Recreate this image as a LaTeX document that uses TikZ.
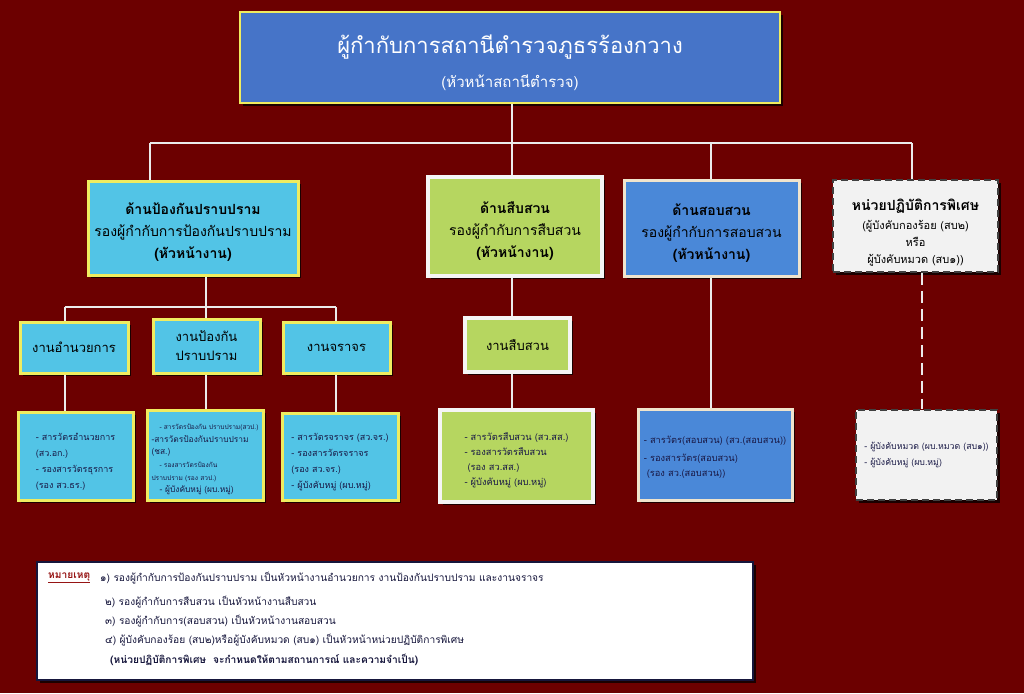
\documentclass[tikz,border=0pt]{standalone}
\usepackage{fontspec}
\setmainfont{Loma}[Script=Thai]
\usetikzlibrary{shadows}
\definecolor{bgred}{RGB}{108,0,0}
\definecolor{topblue}{RGB}{70,116,200}
\definecolor{yelb}{RGB}{240,236,96}
\definecolor{cyanc}{RGB}{82,196,230}
\definecolor{greenc}{RGB}{182,214,96}
\definecolor{blueb}{RGB}{74,136,216}
\definecolor{tanb}{RGB}{240,228,205}
\definecolor{specf}{RGB}{242,242,242}
\definecolor{navy}{RGB}{22,22,60}
\definecolor{darktx}{RGB}{25,25,70}
\definecolor{notered}{RGB}{150,20,20}
\definecolor{wline}{RGB}{235,235,235}
\tikzset{
  sz/.style 2 args={minimum width=#1, minimum height=#2, inner sep=0pt},
  sh/.style={drop shadow={fill=black, opacity=0.75, shadow xshift=3pt, shadow yshift=-3pt}},
  topbox/.style={sh, fill=topblue, draw=yelb, line width=2.5pt},
  cyanbox/.style={sh, fill=cyanc, draw=yelb, line width=3pt},
  greenbox/.style={sh, fill=greenc, draw=white!92!gray, line width=3.5pt},
  bluebox/.style={sh, fill=blueb, draw=tanb, line width=3pt},
  specbox/.style={sh, fill=specf, draw=black!75, dash pattern=on 7pt off 4pt, line width=1.8pt},
  notebox/.style={sh, fill=white, draw=navy, line width=2.5pt},
  ctx/.style={align=center, inner sep=0pt},
  ltx/.style={align=left, inner sep=0pt, text=darktx},
  hdrfont/.style={font=\fontsize{14}{22}\selectfont},
  subfont/.style={font=\fontsize{13}{19}\selectfont},
  notefont/.style={font=\fontsize{10.2}{13}\selectfont, text=navy, anchor=west, inner sep=0pt},
  conn/.style={draw=wline, line width=2.2pt},
  dconn/.style={draw=wline, line width=2.5pt, dash pattern=on 12pt off 6pt},
}
\begin{document}
\begin{tikzpicture}[x=1pt,y=-1pt]
\fill[bgred] (0,0) rectangle (1024,693);
\useasboundingbox (0,0) rectangle (1024,693);

% junction coordinates
\coordinate (jL) at (150,143);
\coordinate (jM) at (512,143);
\coordinate (jB) at (711,143);
\coordinate (jS) at (912,143);
\coordinate (kM) at (206,307);
\coordinate (kA) at (65,307);
\coordinate (kC) at (336,307);
\coordinate (jD) at (922,300);

% horizontal connectors (drawn first, boxes cover ends)
\draw[conn] (jL) -- (jS);
\draw[conn] (kA) -- (kC);

% ---------- boxes ----------
\node[topbox, sz={540pt}{91pt}] (top) at (510,57.5) {};
\node[cyanbox, sz={210pt}{94pt}] (hL) at (193,228) {};
\node[greenbox, sz={174pt}{99pt}] (hG) at (515,226.5) {};
\node[bluebox, sz={175pt}{96pt}] (hB) at (711.5,228) {};
\node[specbox, sz={165pt}{92pt}] (hS) at (915.5,226) {};
\node[cyanbox, sz={108pt}{51pt}] (s1) at (74,347.5) {};
\node[cyanbox, sz={107pt}{54pt}] (s2) at (206.5,346) {};
\node[cyanbox, sz={107pt}{51pt}] (s3) at (336.5,347.5) {};
\node[greenbox, sz={105pt}{54pt}] (sG) at (517.5,345) {};
\node[cyanbox, sz={115pt}{88pt}] (b1) at (75.5,456) {};
\node[cyanbox, sz={116pt}{90pt}] (b2) at (205,455) {};
\node[cyanbox, sz={116pt}{87pt}] (b3) at (340,456.5) {};
\node[greenbox, sz={153pt}{92pt}] (bG) at (516.5,456) {};
\node[bluebox, sz={154pt}{91pt}] (bB) at (715,454.5) {};
\node[specbox, sz={141pt}{90pt}] (bS) at (926.5,455) {};
\node[notebox, sz={716pt}{118pt}] (notes) at (395,621) {};

% ---------- texts ----------
\node[ctx, text=white] (topt) at ([yshift=-5pt]top.center)
  {{\fontsize{22}{30}\selectfont ผู้กำกับการสถานีตำรวจภูธรร้องกวาง}\\[15pt]
   {\fontsize{15}{18}\selectfont (หัวหน้าสถานีตำรวจ)}};
\node[ctx, hdrfont] (hLt) at ([yshift=-4pt]hL.center)
  {\textbf{ด้านป้องกันปราบปราม}\\ รองผู้กำกับการป้องกันปราบปราม\\ \textbf{(หัวหน้างาน)}};
\node[ctx, hdrfont] (hGt) at ([yshift=-5pt]hG.center)
  {\textbf{ด้านสืบสวน}\\ รองผู้กำกับการสืบสวน\\ \textbf{(หัวหน้างาน)}};
\node[ctx, hdrfont] (hBt) at ([yshift=-5pt]hB.center)
  {\textbf{ด้านสอบสวน}\\ รองผู้กำกับการสอบสวน\\ \textbf{(หัวหน้างาน)}};
\node[ctx, font=\fontsize{11}{17}\selectfont] (hSt) at ([yshift=-7pt]hS.center)
  {{\fontsize{14}{18}\selectfont\textbf{หน่วยปฏิบัติการพิเศษ}}\\[2pt] (ผู้บังคับกองร้อย (สบ๒)\\ หรือ\\ ผู้บังคับหมวด (สบ๑))};

\node[ctx, subfont] (s1t) at (s1.center) {งานอำนวยการ};
\node[ctx, subfont] (s2t) at (s2.center) {งานป้องกัน\\ ปราบปราม};
\node[ctx, subfont] (s3t) at (s3.center) {งานจราจร};
\node[ctx, subfont] (sGt) at (sG.center) {งานสืบสวน};

\node[ltx, font=\fontsize{9}{16}\selectfont] (b1t) at ([yshift=-6pt]b1.center)
  {- สารวัตรอำนวยการ\\ (สว.อก.)\\ - รองสารวัตรธุรการ\\ (รอง สว.ธร.)};
\node[ltx, font=\fontsize{8.4}{12.6}\selectfont] (b2t) at ([yshift=-4.5pt]b2.center)
  {\hspace*{8pt}{\fontsize{6.6}{12.6}\selectfont - สารวัตรป้องกัน ปราบปราม(สวป.)}\\
   -สารวัตรป้องกันปราบปราม\\
   (ชส.)\\
   \hspace*{8pt}{\fontsize{6.6}{12.6}\selectfont - รองสารวัตรป้องกัน}\\
   {\fontsize{6.6}{12.6}\selectfont ปราบปราม (รอง สวป.)}\\
   \hspace*{8pt}- ผู้บังคับหมู่ (ผบ.หมู่)};
\node[ltx, font=\fontsize{9}{16}\selectfont] (b3t) at ([yshift=-6pt]b3.center)
  {- สารวัตรจราจร (สว.จร.)\\ - รองสารวัตรจราจร\\ (รอง สว.จร.)\\ - ผู้บังคับหมู่ (ผบ.หมู่)};
\node[ltx, font=\fontsize{9.3}{15}\selectfont] (bGt) at ([yshift=-4.5pt]bG.center)
  {- สารวัตรสืบสวน (สว.สส.)\\ - รองสารวัตรสืบสวน\\ \hspace*{3pt}(รอง สว.สส.)\\ - ผู้บังคับหมู่ (ผบ.หมู่)};
\node[ltx, font=\fontsize{9.3}{15}\selectfont] (bBt) at ([yshift=-3pt]bB.center)
  {- สารวัตร(สอบสวน) (สว.(สอบสวน))\\[3pt] - รองสารวัตร(สอบสวน)\\ \hspace*{3pt}(รอง สว.(สอบสวน))};
\node[ltx, font=\fontsize{8.8}{16}\selectfont] (bSt) at (bS.center)
  {- ผู้บังคับหมวด (ผบ.หมวด (สบ๑))\\ - ผู้บังคับหมู่ (ผบ.หมู่)};

% ---------- vertical connectors ----------
\draw[conn] (jM |- top.south) -- (jM);
\draw[conn] (jL) -- (jL |- hL.north);
\draw[conn] (jM) -- (jM |- hG.north);
\draw[conn] (jB) -- (jB |- hB.north);
\draw[conn] (jS) -- (jS |- hS.north);
\draw[conn] (kM |- hL.south) -- (kM);
\draw[conn] (kA) -- (kA |- s1.north);
\draw[conn] (kM) -- (kM |- s2.north);
\draw[conn] (kC) -- (kC |- s3.north);
\draw[conn] (kA |- s1.south) -- (kA |- b1.north);
\draw[conn] (kM |- s2.south) -- (kM |- b2.north);
\draw[conn] (kC |- s3.south) -- (kC |- b3.north);
\draw[conn] (jM |- hG.south) -- (jM |- sG.north);
\draw[conn] (jM |- sG.south) -- (jM |- bG.north);
\draw[conn] (jB |- hB.south) -- (jB |- bB.north);
\draw[dconn] (jD |- hS.south) -- (jD |- bS.north);

% ---------- notes ----------
\node[notefont, text=notered] (n0) at (48,578) {\textbf{\underline{หมายเหตุ}}};
\node[notefont] (n1) at (100,578) {๑) รองผู้กำกับการป้องกันปราบปราม เป็นหัวหน้างานอำนวยการ งานป้องกันปราบปราม และงานจราจร};
\node[notefont] (n2) at (105,602) {๒) รองผู้กำกับการสืบสวน เป็นหัวหน้างานสืบสวน};
\node[notefont] (n3) at (105,621) {๓) รองผู้กำกับการ(สอบสวน) เป็นหัวหน้างานสอบสวน};
\node[notefont] (n4) at (105,640) {๔) ผู้บังคับกองร้อย (สบ๒)หรือผู้บังคับหมวด (สบ๑) เป็นหัวหน้าหน่วยปฏิบัติการพิเศษ};
\node[notefont] (n5) at (110,660) {\textbf{(หน่วยปฏิบัติการพิเศษ\ \ จะกำหนดให้ตามสถานการณ์ และความจำเป็น)}};
\end{tikzpicture}
\end{document}
